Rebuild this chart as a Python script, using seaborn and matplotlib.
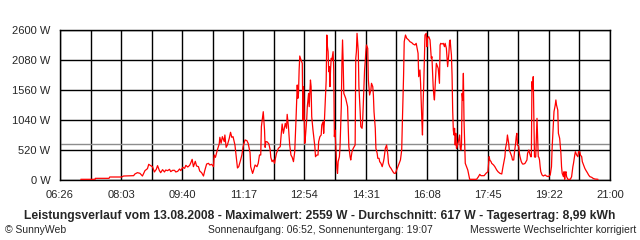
import matplotlib
matplotlib.use("Agg")
import matplotlib.pyplot as plt
import seaborn as sns
import numpy as np
import pandas as pd

# time in minutes after midnight, power in W
minutes = [
    419, 442, 442, 464, 465, 484, 487, 503, 505, 509, 513, 517, 521, 525, 527, 530, 533, 536, 539, 541,
    544, 546, 549, 552, 554, 557, 560, 562, 565, 568, 570, 573, 576, 578, 581, 584, 586, 589, 592, 594,
    596, 598, 601, 603, 606, 608, 611, 614, 616, 619, 622, 624, 627, 630, 631, 633, 636, 639, 640, 642,
    644, 647, 648, 650, 652, 655, 657, 659, 661, 664, 666, 668, 670, 673, 675, 677, 680, 683, 685, 688,
    689, 692, 693, 696, 699, 701, 703,
    705, 706, 708, 709, 711, 712, 713, 715, 718, 720, 721, 723, 725, 727, 728, 730, 733, 736, 737, 739,
    741, 744, 746, 747, 749, 751, 753, 755, 757, 759, 761, 763, 764, 765, 766, 767, 769, 771, 772, 773,
    775, 776, 778, 779, 781, 782, 784, 785, 786, 788, 790, 791, 792, 794, 796, 797, 799, 801, 802, 804,
    805, 806, 808, 809, 810, 811, 812, 813, 814, 815, 816, 817, 818, 820, 821, 822, 823, 825, 826, 827,
    828, 830, 831, 833, 834, 835, 836, 837, 838, 840, 843, 844, 845, 847, 848, 850, 852, 855, 856, 857,
    858, 860, 861, 863, 864, 866, 867, 870, 871, 872, 873, 875, 876, 878, 880, 881, 883, 884, 885, 887,
    888, 890, 891, 893, 894, 896, 898, 900, 901, 903, 905, 907, 908, 910, 912, 915, 917, 919, 921, 923,
    925, 927, 929, 930, 932, 933, 935, 937, 940, 942, 945, 947, 950, 952, 953, 955, 956, 958, 959, 961,
    962, 963, 964, 965, 966, 968, 969, 970, 972, 973, 974, 976, 977, 979, 980, 981, 982, 984, 986, 987,
    989,
    990, 991, 993, 995, 997, 998, 1000, 1001, 1002, 1004, 1005, 1006, 1007, 1008, 1009, 1010, 1011, 1012,
    1013, 1014, 1015, 1016, 1017, 1019, 1021, 1022, 1023, 1024, 1025, 1026, 1027, 1028, 1029, 1030, 1032,
    1034, 1035, 1037, 1043, 1048, 1051, 1053, 1055, 1060, 1063, 1066, 1068, 1069, 1071, 1072, 1075, 1077,
    1080, 1082, 1085, 1088, 1090, 1093, 1094, 1096, 1097, 1099, 1100, 1102, 1104, 1105, 1107, 1108, 1110,
    1111, 1112, 1113, 1115, 1116, 1117, 1119, 1121, 1123, 1125, 1128, 1129, 1131, 1132, 1134, 1135, 1136,
    1137, 1138, 1139, 1140, 1141, 1142, 1143, 1144, 1146, 1147, 1148, 1149, 1150, 1152, 1154, 1157, 1159,
    1162, 1165, 1167, 1168, 1170, 1171, 1173, 1174, 1175, 1177, 1178, 1180, 1182, 1183, 1184, 1186, 1187,
    1188, 1189, 1190, 1191, 1193, 1197, 1199, 1201, 1202, 1204, 1205, 1207, 1209, 1210, 1212, 1213, 1215,
    1216, 1218, 1220, 1222, 1224, 1226, 1228, 1231, 1233, 1236, 1241,
]
power = [
    12, 12, 29, 29, 52, 52, 69, 75, 104, 127, 116, 69, 162, 197, 272, 249, 231, 139, 185, 249,
    162, 127, 179, 139, 173, 162, 185, 145, 168, 168, 139, 150, 191, 162, 220, 202, 254, 225, 254, 301,
    358, 231, 324, 243, 231, 156, 127, 69, 162, 277, 289, 260, 272, 231, 434, 393, 520, 624, 740, 636,
    751, 665, 780, 566, 607, 723, 827, 740, 751, 607, 405, 208, 231, 347, 434, 578, 694, 682, 636, 474,
    231, 116, 145, 260, 231, 289, 434,
    433, 924, 1098, 1184, 867, 566, 664, 664, 624, 520, 393, 318, 347, 289, 358, 462, 549, 578, 722, 971,
    809, 982, 896, 1138, 924, 607, 433, 393, 318, 491, 1040, 1647, 1416, 1502, 1907, 2149, 2080, 2022, 1040, 1618,
    636, 751, 1040, 1271, 1502, 1271, 1733, 1618, 1098, 867, 664, 578, 404, 433, 433, 664, 751, 780, 953, 1011,
    809, 982, 1473, 1733, 2513, 2311, 2225, 1878, 1965, 1618, 1936, 2109, 2080, 2225, 1907, 751, 867, 404, 202, 116,
    318, 404, 578, 1271, 2022, 2427, 2022, 1502, 1473, 1416, 1271, 924, 578, 404, 347, 491, 549, 607, 2109, 2225,
    2542, 2225, 1618, 1184, 924, 896, 1040, 1907, 2051, 2225, 2340, 2282, 1733, 1473, 1560, 1676, 1618, 1473, 1184, 896,
    549, 462, 376, 376, 318, 289, 231, 318, 376, 549, 607, 433, 289, 231, 202, 144, 116, 116, 173, 231,
    289, 347, 520, 982, 1820, 2398, 2513, 2456, 2427, 2398, 2380, 2357, 2340, 2369, 2311, 2196, 1791, 1907, 1676, 1040,
    780, 1329, 1647, 2109, 2513, 2542, 2311, 2456, 2485, 2456, 2427, 2109, 2138, 1618, 1473, 1387, 1589, 2022, 1965, 1936,
    1676,
    2340, 2369, 2357, 2369, 2311, 2369, 2282, 2109, 1965, 2196, 2398, 2427, 2282, 2167, 1820, 1213, 867, 780,
    896, 607, 809, 549, 578, 664, 780, 549, 520, 607, 1502, 1387, 1849, 1040, 636, 289, 231,
    173, 116, 12, 12, 12, 58, 98, 75, 75, 116, 144, 404, 347, 318, 289, 260, 231,
    173, 144, 116, 104, 231, 404, 549, 664, 780, 636, 520, 462, 404, 347, 347, 462, 636,
    751, 809, 607, 578, 462, 404, 318, 277, 277, 289, 347, 462, 520, 474, 404, 404, 1705,
    1560, 1791, 1069, 404, 393, 404, 722, 1069, 404, 393, 347, 231, 144, 87, 69, 87, 69,
    58, 87, 231, 549, 953, 1184, 1300, 1387, 1300, 1213, 809, 722, 462, 231, 116, 58, 144,
    12, 116, 144, 58, 12, 12, 58, 231, 289, 433, 491, 433, 404, 491, 491, 433, 404,
    318, 260, 202, 162, 127, 87, 58, 46, 29, 17, 12,
]

x_start, x_end = 386, 1260
x_labels = ["06:26", "08:03", "09:40", "11:17", "12:54", "14:31", "16:08", "17:45", "19:22", "21:00"]
y_ticks = [0, 520, 1040, 1560, 2080, 2600]
y_labels = ["0 W", "520 W", "1040 W", "1560 W", "2080 W", "2600 W"]
average = 617

title = "Leistungsverlauf vom 13.08.2008 - Maximalwert: 2559 W - Durchschnitt: 617 W - Tagesertrag: 8,99 kWh"
left_note = "© SunnyWeb"
mid_note = "Sonnenaufgang: 06:52, Sonnenuntergang: 19:07"
right_note = "Messwerte Wechselrichter korrigiert"

sns.set_style("white")
plt.rcParams["font.family"] = ["Liberation Sans", "DejaVu Sans"]

df = pd.DataFrame({"t": minutes, "p": power})

fig = plt.figure(figsize=(6.4, 2.4), dpi=100)
ax = fig.add_axes([60 / 640, 1 - 180 / 240, 550 / 640, 150 / 240])

grid_x = np.linspace(x_start, x_end, 19)
for gx in grid_x:
    ax.axvline(gx, color="black", lw=1.0, zorder=1)
for gy in y_ticks:
    ax.axhline(gy, color="black", lw=1.0, zorder=1)
ax.axhline(average, color="#8c8c8c", lw=1.0, zorder=2)

sns.lineplot(data=df, x="t", y="p", estimator=None, sort=False, color="#ff0000",
             lw=0.9, ax=ax, zorder=3)

ax.set_xlim(x_start, x_end)
ax.set_ylim(0, 2600)
ax.set_xticks(grid_x)
ax.set_xticklabels([x_labels[i // 2] if i % 2 == 0 else "" for i in range(19)])
ax.set_yticks(y_ticks)
ax.set_yticklabels(y_labels)
ax.tick_params(axis="x", length=3.6, width=1, color="black", pad=3.5, labelsize=8)
ax.tick_params(axis="y", length=0, pad=7, labelsize=8)
ax.set_xlabel("")
ax.set_ylabel("")
for s in ax.spines.values():
    s.set_color("black")
    s.set_linewidth(1.0)

fig.text(0.5, 1 - 216 / 240, title, ha="center", va="center", fontsize=8.7, fontweight="bold")
fig.text(5 / 640, 1 - 230 / 240, left_note, ha="left", va="center", fontsize=7.5)
fig.text(320 / 640, 1 - 230 / 240, mid_note, ha="center", va="center", fontsize=7.5)
fig.text(636 / 640, 1 - 230 / 240, right_note, ha="right", va="center", fontsize=7.5)

fig.savefig("out.png", dpi=100)
